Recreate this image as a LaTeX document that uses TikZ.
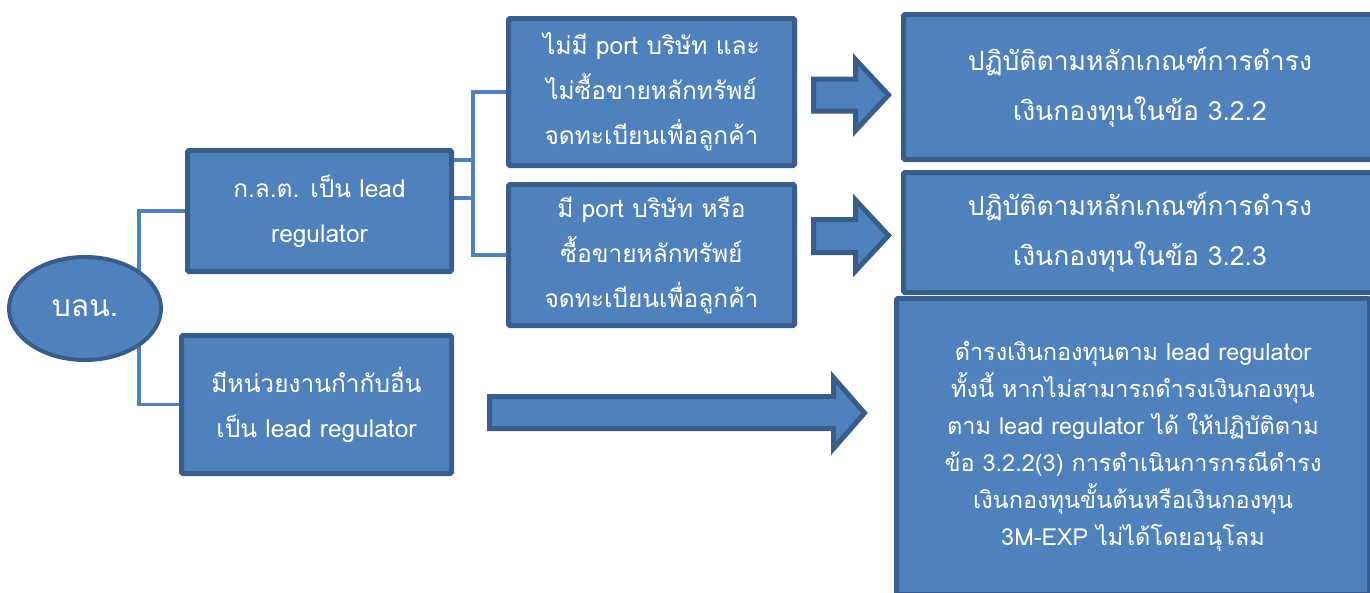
\documentclass[tikz,border=0pt]{standalone}
\usepackage{fontspec}
\newfontfamily\thai[Script=Thai]{Loma}
\usetikzlibrary{backgrounds,shapes.geometric}
\definecolor{fillb}{HTML}{4F81BD}
\definecolor{edgeb}{HTML}{385D8A}
\begin{document}
\begin{tikzpicture}[x=1pt,y=-1pt,
  box/.style={draw=edgeb, fill=fillb, line width=5pt, rounded corners=1.5pt, text=white, align=center, inner sep=0pt},
  conn/.style={draw=fillb, line width=3.5pt},
  barrow/.style={draw=edgeb, fill=fillb, line width=5pt, line join=miter},
  midtxt/.style={font=\thai\fontsize{24.5}{45}\selectfont},
  bigtxt/.style={font=\thai\fontsize{26.5}{50}\selectfont},
  smalltxt/.style={font=\thai\fontsize{23.5}{37}\selectfont}]
\useasboundingbox (0,0) rectangle (1370,592);

\node[box, midtxt, minimum width=264pt, minimum height=121pt] (A) at (319.5,211) {ก.ล.ต. เป็น lead\\regulator};
\node[box, midtxt, minimum width=270pt, minimum height=138pt] (B) at (316.5,404.5) {มีหน่วยงานกำกับอื่น\\เป็น lead regulator};
\node[box, midtxt, minimum width=286pt, minimum height=147pt] (C) at (651.5,92) {ไม่มี port บริษัท และ\\ไม่ซื้อขายหลักทรัพย์\\จดทะเบียนเพื่อลูกค้า};
\node[box, midtxt, minimum width=286pt, minimum height=141pt] (D) at (651.5,255) {มี port บริษัท หรือ\\ซื้อขายหลักทรัพย์\\จดทะเบียนเพื่อลูกค้า};
\node[box, bigtxt, minimum width=473pt, minimum height=145pt] (E) at (1140,87) {ปฏิบัติตามหลักเกณฑ์การดำรง\\เงินกองทุนในข้อ 3.2.2};
\node[box, bigtxt, minimum width=473pt, minimum height=120pt] (F) at (1140,232.5) {ปฏิบัติตามหลักเกณฑ์การดำรง\\เงินกองทุนในข้อ 3.2.3};
\node[box, smalltxt, minimum width=473pt, minimum height=296pt] (G) at (1133,446.5) {ดำรงเงินกองทุนตาม lead regulator\\ทั้งนี้ หากไม่สามารถดำรงเงินกองทุน\\ตาม lead regulator ได้ ให้ปฏิบัติตาม\\ข้อ 3.2.2(3) การดำเนินการกรณีดำรง\\เงินกองทุนขั้นต้นหรือเงินกองทุน\\3M-EXP ไม่ได้โดยอนุโลม};

\node[ellipse, draw=edgeb, fill=fillb, line width=4pt, minimum width=152pt, minimum height=103pt, inner sep=0pt, text=white, font=\thai\fontsize{30}{36}\selectfont] (L) at (85,308.5) {บลน.};

\coordinate (bus0) at (139,0);
\coordinate (bus1) at (473,0);
\begin{pgfonlayer}{background}
\fill[white] (0,0) rectangle (1370,592);
\draw[conn] (A.west) -| (bus0 |- L.center);
\draw[conn] (B.west) -| (bus0 |- L.center);
\draw[conn] ([yshift=13pt]A.east) -| (bus1 |- C.west) -- (C.west);
\draw[conn] ([yshift=51pt]A.east) -| (bus1 |- D.west) -- (D.west);
\end{pgfonlayer}

\draw[barrow] (813.5,79) -- (855.5,79) -- (855.5,59.5) -- (888.5,95) -- (855.5,130.5) -- (855.5,111) -- (813.5,111) -- cycle;
\draw[barrow] (813.5,219.5) -- (855.5,219.5) -- (855.5,200) -- (888.5,235.5) -- (855.5,271) -- (855.5,252.5) -- (813.5,252.5) -- cycle;
\draw[barrow] (489.5,396.5) -- (833.5,396.5) -- (833.5,377.5) -- (864.5,413) -- (833.5,448.5) -- (833.5,428.5) -- (489.5,428.5) -- cycle;
\end{tikzpicture}
\end{document}
